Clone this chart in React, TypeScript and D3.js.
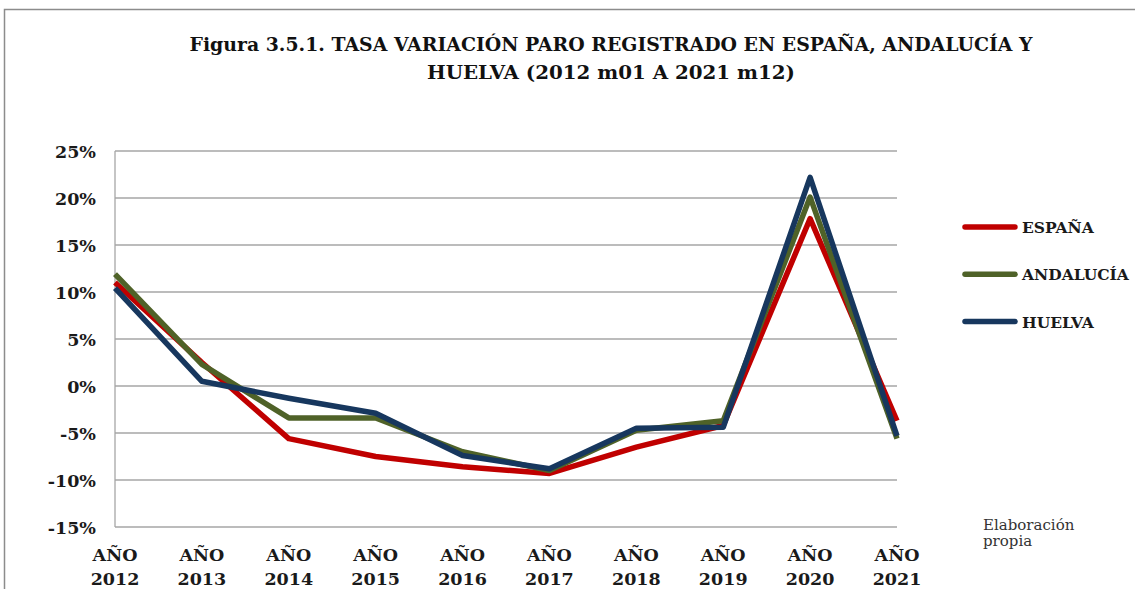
import React from "react";
import * as d3 from "d3";

const categories = ["2012", "2013", "2014", "2015", "2016", "2017", "2018", "2019", "2020", "2021"];
const espana = [11.0, 2.5, -5.6, -7.5, -8.6, -9.3, -6.5, -4.2, 17.8, -3.7];
const andalucia = [11.9, 2.3, -3.4, -3.4, -7.0, -9.0, -4.7, -3.7, 20.1, -5.6];
const huelva = [10.4, 0.5, -1.3, -2.9, -7.4, -8.8, -4.5, -4.4, 22.2, -5.3];
const yTicks = [25, 20, 15, 10, 5, 0, -5, -10, -15];

const series = [
  { name: "ESPAÑA", values: espana, color: "#C00000" },
  { name: "ANDALUCÍA", values: andalucia, color: "#4F6228" },
  { name: "HUELVA", values: huelva, color: "#17375E" },
];

const W = 1135;
const H = 589;
const left = 115;
const right = 897;
const top = 151;
const bottom = 527;
const serif = "'DejaVu Serif', 'Liberation Serif', serif";

export default function App() {
  const x = d3.scalePoint<string>().domain(categories).range([left, right]);
  const y = d3.scaleLinear().domain([-15, 25]).range([bottom, top]);
  const line = d3
    .line<number>()
    .x((_, i) => x(categories[i]) as number)
    .y((d) => y(d));

  return (
    <svg
      width={W}
      height={H}
      style={{ position: "absolute", left: 0, top: 0, background: "#fff" }}
      fontFamily={serif}
    >
      <rect x={0} y={0} width={W} height={H} fill="#fff" />
      <path d={`M4.5,${H} L4.5,9.5 L${W},9.5`} fill="none" stroke="#8c8c8c" strokeWidth={1.5} />
      <text x={611} y={51} textAnchor="middle" fontWeight="bold" fontSize={19} fill="#111"
        textLength={843} lengthAdjust="spacingAndGlyphs">
        Figura 3.5.1. TASA VARIACIÓN PARO REGISTRADO EN ESPAÑA, ANDALUCÍA Y
      </text>
      <text x={611} y={79} textAnchor="middle" fontWeight="bold" fontSize={19} fill="#111"
        textLength={368} lengthAdjust="spacingAndGlyphs">
        HUELVA (2012 m01 A 2021 m12)
      </text>
      {yTicks.map((t) => (
        <g key={t}>
          <line x1={left} x2={right} y1={y(t)} y2={y(t)} stroke="#a6a6a6" strokeWidth={1.3} />
          <text x={96} y={y(t) + 6.5} textAnchor="end" fontWeight="bold" fontSize={17.5} fill="#1a1a1a">
            {t}%
          </text>
        </g>
      ))}
      <line x1={left} x2={left} y1={top} y2={bottom} stroke="#a6a6a6" strokeWidth={1.3} />
      {categories.map((c) => (
        <g key={c}>
          <text x={x(c)} y={561} textAnchor="middle" fontWeight="bold" fontSize={17.5} fill="#1a1a1a">
            AÑO
          </text>
          <text x={x(c)} y={585} textAnchor="middle" fontWeight="bold" fontSize={17.5} fill="#1a1a1a">
            {c}
          </text>
        </g>
      ))}
      {series.map((s) => (
        <path key={s.name} d={line(s.values) as string} fill="none" stroke={s.color}
          strokeWidth={5.5} strokeLinejoin="round" />
      ))}
      {series.map((s, i) => (
        <g key={s.name} transform={`translate(0, ${227 + i * 47.3})`}>
          <line x1={965} x2={1015} y1={0} y2={0} stroke={s.color} strokeWidth={5.5} strokeLinecap="round" />
          <text x={1022} y={6} fontWeight="bold" fontSize={15.5} fill="#1a1a1a">{s.name}</text>
        </g>
      ))}
      <text x={983} y={530} fontSize={15} fill="#333">Elaboración</text>
      <text x={983} y={546} fontSize={15} fill="#333">propia</text>
    </svg>
  );
}
